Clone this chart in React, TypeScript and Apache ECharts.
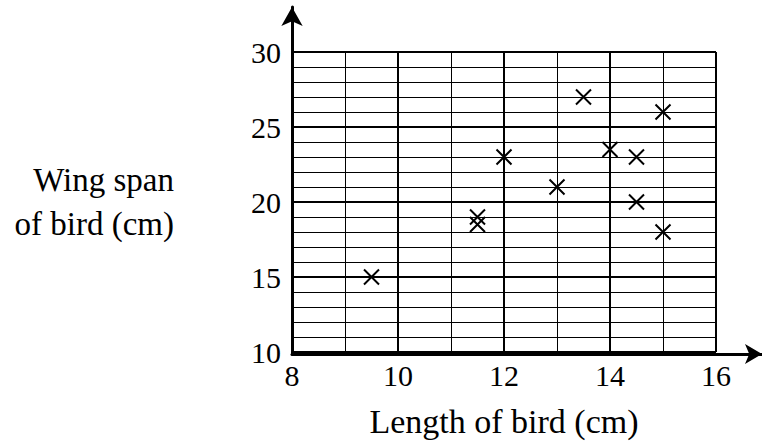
import React, { useEffect, useRef } from "react";
import * as echarts from "echarts";

const lengths = [9.5, 11.5, 11.5, 12, 13, 13.5, 14, 14.5, 14.5, 15, 15];
const spans = [15, 19, 18.5, 23, 21, 27, 23.5, 23, 20, 26, 18];
const xRange = [8, 16];
const yRange = [10, 30];
const xLabel = "Length of bird (cm)";
const yLabel = "Wing span\nof bird (cm)";

const FONT = "'Liberation Serif', serif";
const FS = 30;
const NFS = 34;

export default function App() {
  const ref = useRef<HTMLDivElement>(null);
  useEffect(() => {
    if (!ref.current) return;
    const chart = echarts.init(ref.current, null, { renderer: "svg" });
    const points = lengths.map((x, i) => [x, spans[i]]);
    const thin = { show: true, lineStyle: { color: "#000", width: 1 } };
    const thick = { show: true, lineStyle: { color: "#000", width: 2 } };
    chart.setOption({
      animation: false,
      backgroundColor: "#fff",
      textStyle: { fontFamily: FONT },
      grid: [
        { left: 292, top: 52, width: 424, height: 302 },
        { left: 292, top: 7, width: 470, height: 347 },
      ],
      xAxis: [
        {
          gridIndex: 0, type: "value", min: xRange[0], max: xRange[1], interval: 1, position: "top",
          axisLine: { show: false }, axisTick: { show: false }, axisLabel: { show: false }, splitLine: thin,
        },
        {
          gridIndex: 0, type: "value", min: xRange[0], max: xRange[1], interval: 2, position: "bottom",
          axisLine: { show: false }, axisTick: { show: false }, splitLine: thick,
          axisLabel: { show: true, color: "#000", fontFamily: FONT, fontSize: FS, margin: 8 },
          name: xLabel, nameLocation: "middle", nameGap: 52,
          nameTextStyle: { color: "#000", fontFamily: FONT, fontSize: NFS },
        },
        {
          gridIndex: 1, type: "value", min: 0, max: 1, position: "bottom",
          axisLine: { show: true, onZero: false, symbol: ["none", "arrow"], symbolSize: [15, 17], lineStyle: { color: "#000", width: 3 } },
          axisTick: { show: false }, axisLabel: { show: false }, splitLine: { show: false },
        },
      ],
      yAxis: [
        {
          gridIndex: 0, type: "value", min: yRange[0], max: yRange[1], interval: 1, position: "right",
          axisLine: { show: false }, axisTick: { show: false }, axisLabel: { show: false }, splitLine: thin,
        },
        {
          gridIndex: 0, type: "value", min: yRange[0], max: yRange[1], interval: 5, position: "left",
          axisLine: { show: false }, axisTick: { show: false }, splitLine: thick,
          axisLabel: { show: true, color: "#000", fontFamily: FONT, fontSize: FS, margin: 11 },
        },
        {
          gridIndex: 1, type: "value", min: 0, max: 1, position: "left",
          axisLine: { show: true, onZero: false, symbol: ["none", "arrow"], symbolSize: [16, 19], lineStyle: { color: "#000", width: 3 } },
          axisTick: { show: false }, axisLabel: { show: false }, splitLine: { show: false },
        },
      ],
      graphic: [
        {
          type: "text", x: 174, y: 202,
          style: { text: yLabel, fill: "#000", fontFamily: FONT, fontSize: 33, align: "right", verticalAlign: "middle", lineHeight: 44 },
        },
      ],
      series: [
        {
          type: "scatter", xAxisIndex: 1, yAxisIndex: 1, data: points,
          symbol: "path://M0,0L10,10M10,0L0,10", symbolSize: 15,
          itemStyle: { color: "none", borderColor: "#000", borderWidth: 2, opacity: 1 },
          z: 10,
        },
      ],
    });
    return () => chart.dispose();
  }, []);
  return <div ref={ref} style={{ position: "fixed", left: 0, top: 0, width: 762, height: 443, background: "#fff" }} />;
}
